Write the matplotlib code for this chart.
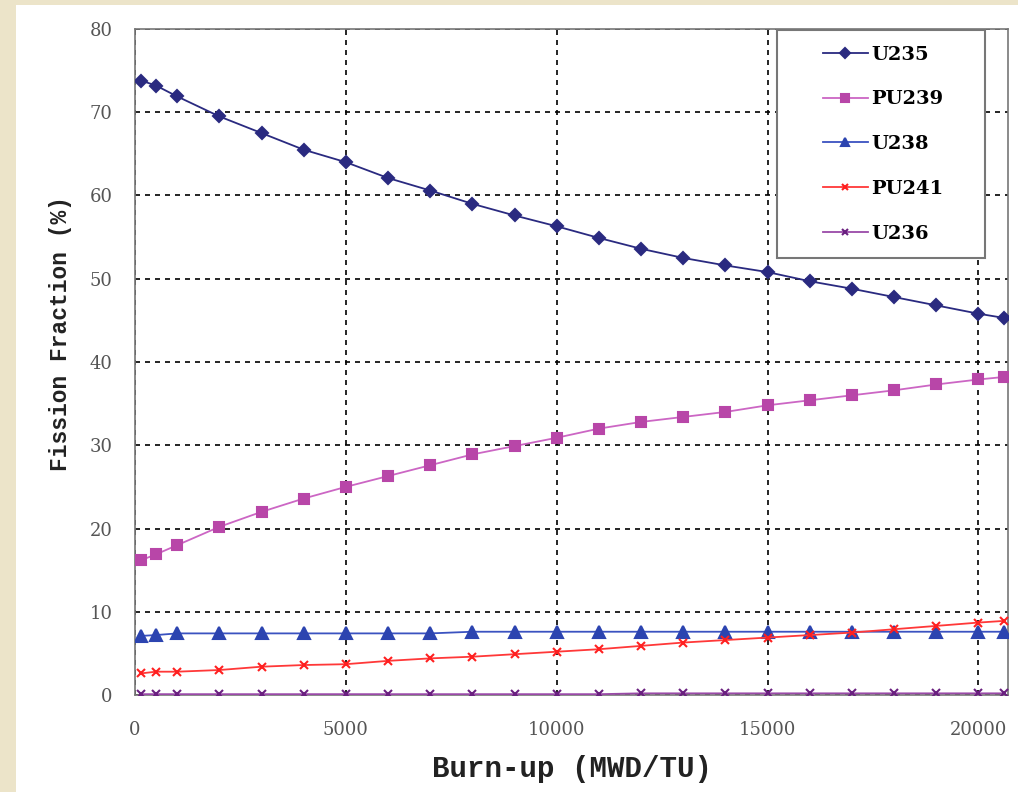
import matplotlib
matplotlib.use("Agg")
import matplotlib.pyplot as plt
from matplotlib.patches import Rectangle

# Burn-up steps (MWD/TU)
burnup = [150, 500, 1000, 2000, 3000, 4000, 5000, 6000, 7000, 8000, 9000,
          10000, 11000, 12000, 13000, 14000, 15000, 16000, 17000, 18000,
          19000, 20000, 20600]

# Fission fractions (%)
u235 = [73.8, 73.2, 71.9, 69.5, 67.5, 65.5, 64.0, 62.1, 60.6, 59.0, 57.6,
        56.3, 54.9, 53.6, 52.5, 51.6, 50.8, 49.7, 48.8, 47.8, 46.8, 45.8, 45.3]
pu239 = [16.2, 16.9, 18.0, 20.2, 22.0, 23.6, 25.0, 26.3, 27.6, 28.9, 29.9,
         30.9, 32.0, 32.8, 33.4, 34.0, 34.8, 35.4, 36.0, 36.6, 37.3, 37.9, 38.2]
u238 = [7.1, 7.2, 7.4, 7.4, 7.4, 7.4, 7.4, 7.4, 7.4, 7.6, 7.6, 7.6, 7.6,
        7.6, 7.6, 7.6, 7.6, 7.6, 7.6, 7.6, 7.6, 7.6, 7.6]
pu241 = [2.6, 2.8, 2.8, 3.0, 3.4, 3.6, 3.7, 4.1, 4.4, 4.6, 4.9, 5.2, 5.5,
         5.9, 6.3, 6.6, 6.9, 7.2, 7.5, 7.9, 8.3, 8.7, 8.9]
u236 = [0.1, 0.1, 0.1, 0.1, 0.1, 0.1, 0.1, 0.1, 0.1, 0.1, 0.1, 0.1, 0.1,
        0.2, 0.2, 0.2, 0.2, 0.2, 0.2, 0.2, 0.2, 0.2, 0.2]

x_ticks = [0, 5000, 10000, 15000, 20000]
y_ticks = [0, 10, 20, 30, 40, 50, 60, 70, 80]

fig = plt.figure(figsize=(10.18, 7.92), dpi=100)
fig.patch.set_facecolor("#ece4c9")
fig.add_artist(Rectangle((16 / 1018, 0), 1 - 16 / 1018, 1 - 5 / 792,
                         transform=fig.transFigure, facecolor="white",
                         edgecolor="none", zorder=-10))

ax = fig.add_axes([135 / 1018, 1 - 695 / 792, 873 / 1018, 666 / 792])
ax.set_facecolor("white")

series = [
    ("U235", u235, "#2a2a80", "D", 6, "#2a2a80"),
    ("PU239", pu239, "#cc66c4", "s", 6.5, "#b846a8"),
    ("U238", u238, "#3a52c0", "^", 8, "#2c44b0"),
    ("PU241", pu241, "#ff3838", "x", 6, "#ff2020"),
    ("U236", u236, "#9a4aa8", "x", 6, "#6a2080"),
]
for name, vals, col, mk, ms, mcol in series:
    ax.plot(burnup, vals, color=col, lw=1.3, marker=mk, markersize=ms,
            markerfacecolor=mcol, markeredgecolor=mcol, markeredgewidth=1.5,
            label=name, zorder=3)

ax.set_xlim(0, 20700)
ax.set_ylim(0, 80)
ax.set_xticks(x_ticks)
ax.set_yticks(y_ticks)
ax.grid(True, color="black", linestyle=(0, (3, 3)), lw=1.2)
ax.set_axisbelow(True)

for side in ["left", "bottom", "top", "right"]:
    ax.spines[side].set_color("#777777")
    ax.spines[side].set_linewidth(1.2)

ax.tick_params(axis="both", length=0, labelsize=13, labelcolor="#555555")
ax.tick_params(axis="x", pad=19)
ax.tick_params(axis="y", pad=16)
for lab in ax.get_xticklabels() + ax.get_yticklabels():
    lab.set_family("DejaVu Serif")

ax.set_xlabel("Burn-up (MWD/TU)", fontsize=21, family="Liberation Mono",
              fontweight="bold", color="#222222", labelpad=11)
ax.set_ylabel("Fission Fraction (%)", fontsize=16.5, family="Liberation Mono",
              fontweight="bold", color="#222222")
ax.yaxis.set_label_coords(-0.072, 0.5435)

# Legend box: a framed white panel with the entries placed inside it
ax.add_patch(Rectangle((0.7354, 0.656), 0.2383, 0.3425,
                       transform=ax.transAxes, facecolor="white",
                       edgecolor="#777777", lw=1.5, zorder=4))
leg = ax.legend(loc="center left", bbox_to_anchor=(0.788, 0.827),
                prop={"family": "DejaVu Serif", "weight": "bold", "size": 14},
                labelspacing=1.38, handlelength=2.3, handletextpad=0.2,
                borderpad=0.0, borderaxespad=0.0, frameon=False,
                markerscale=0.8)
leg.set_zorder(5)

fig.savefig("out.png", dpi=100, facecolor=fig.get_facecolor())
